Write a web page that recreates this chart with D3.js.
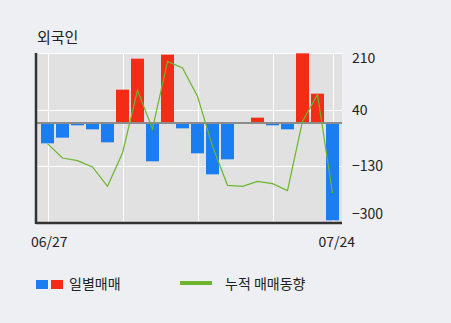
<!DOCTYPE html>
<html>
<head>
<meta charset="utf-8">
<script src="https://cdn.jsdelivr.net/npm/d3@7"></script>
<style>
  body { margin: 0; background: #eeeff3; }
  svg { display: block; }
  text { font-family: "Noto Sans CJK KR", "Noto Sans", sans-serif; fill: #222; }
</style>
</head>
<body>
<svg id="chart" width="451" height="323"></svg>
<script>
// 20 trading days, 06/27 .. 07/24
const dates = ["06/27","06/28","07/01","07/02","07/03","07/04","07/05","07/08","07/09","07/10",
  "07/11","07/12","07/15","07/16","07/17","07/18","07/19","07/22","07/23","07/24"];
// daily net buy/sell (bars)
const daily = [-61, -44, -7, -19, -58, 100, 193, -115, 205, -16,
  -91, -154, -109, 0, 16, -7, -19, 209, 88, -292];
// cumulative trend (green line)
const cumul = [-62, -105, -113, -132, -190, -90, 98, -18, 185, 165,
  80, -70, -187, -190, -175, -182, -203, 5, 85, -210];
const yTicks = [210, 40, -130, -300];
const xLabels = ["06/27", "07/24"];
const gridIdx = [0, 5, 10, 15, 19];

const svg = d3.select("#chart");
const pLeft = 36, pRight = 342, pTop = 53, pBottom = 223;

const x = d3.scaleBand()
  .domain(dates)
  .range([40, 340])
  .paddingInner(2 / 15)
  .paddingOuter(1 / 15);

const y = d3.scaleLinear().domain([-300, 210]).range([pBottom, pTop]);

// plot background
svg.append("rect")
  .attr("x", pLeft).attr("y", pTop)
  .attr("width", pRight - pLeft).attr("height", pBottom - pTop)
  .attr("fill", "#e1e1e1");

// horizontal grid
svg.append("g").selectAll("line")
  .data(yTicks)
  .join("line")
  .attr("x1", pLeft).attr("x2", pRight)
  .attr("y1", d => Math.round(y(d)) + 0.5).attr("y2", d => Math.round(y(d)) + 0.5)
  .attr("stroke", "#fff").attr("stroke-width", 1);

// vertical grid
svg.append("g").selectAll("line")
  .data(gridIdx)
  .join("line")
  .attr("x1", i => Math.round(x(dates[i]) + x.bandwidth() / 2) + 0.5)
  .attr("x2", i => Math.round(x(dates[i]) + x.bandwidth() / 2) + 0.5)
  .attr("y1", pTop).attr("y2", pBottom)
  .attr("stroke", "#fff").attr("stroke-width", 1);

// bars
svg.append("g").selectAll("rect")
  .data(daily)
  .join("rect")
  .attr("x", (d, i) => x(dates[i]))
  .attr("width", x.bandwidth())
  .attr("y", d => y(Math.max(0, d)))
  .attr("height", d => Math.abs(y(d) - y(0)))
  .attr("fill", d => d >= 0 ? "#f22c16" : "#1a7ef2");

// zero line
svg.append("line")
  .attr("x1", pLeft).attr("x2", pRight)
  .attr("y1", y(0)).attr("y2", y(0))
  .attr("stroke", "#8c8c8c").attr("stroke-width", 2);

// cumulative line
const line = d3.line()
  .x((d, i) => x(dates[i]) + x.bandwidth() / 2)
  .y(d => y(d));

svg.append("path")
  .datum(cumul)
  .attr("d", line)
  .attr("fill", "none")
  .attr("stroke", "#6cb52d")
  .attr("stroke-width", 1.2);

// axes frame (left and bottom)
svg.append("line")
  .attr("x1", pLeft).attr("x2", pLeft).attr("y1", pTop).attr("y2", pBottom + 1)
  .attr("stroke", "#333").attr("stroke-width", 2.5);
svg.append("line")
  .attr("x1", pLeft).attr("x2", pRight).attr("y1", pBottom).attr("y2", pBottom)
  .attr("stroke", "#333").attr("stroke-width", 2.5);

// right tick labels
const yAxis = svg.append("g")
  .attr("transform", `translate(${pRight + 10},0)`)
  .call(d3.axisRight(y).tickValues(yTicks).tickSize(0).tickPadding(0)
    .tickFormat(d => d < 0 ? "\u2212" + Math.abs(d) : d));
yAxis.select(".domain").remove();
yAxis.selectAll("text")
  .attr("font-size", 14)
  .attr("font-family", "Noto Sans, sans-serif")
  .attr("fill", "#222")
  .attr("dy", d => d === 210 ? "0.7em" : d === -300 ? "-0.3em" : "0.32em");

// x labels
svg.append("text")
  .attr("x", 31).attr("y", 247)
  .attr("font-size", 14).attr("font-family", "Noto Sans, sans-serif")
  .text(xLabels[0]);
svg.append("text")
  .attr("x", 355).attr("y", 247)
  .attr("text-anchor", "end")
  .attr("font-size", 14).attr("font-family", "Noto Sans, sans-serif")
  .text(xLabels[1]);

// title
svg.append("text")
  .attr("x", 37).attr("y", 43)
  .attr("font-size", 15)
  .text("외국인");

// legend
svg.append("rect").attr("x", 36).attr("y", 280).attr("width", 12).attr("height", 9).attr("fill", "#1a7ef2");
svg.append("rect").attr("x", 51).attr("y", 280).attr("width", 12).attr("height", 9).attr("fill", "#f22c16");
svg.append("text").attr("x", 69).attr("y", 289).attr("font-size", 14).text("일별매매");
svg.append("rect").attr("x", 180).attr("y", 281).attr("width", 32).attr("height", 4).attr("fill", "#6cb52d");
svg.append("text").attr("x", 225).attr("y", 289).attr("font-size", 14).text("누적 매매동향");
</script>
</body>
</html>
